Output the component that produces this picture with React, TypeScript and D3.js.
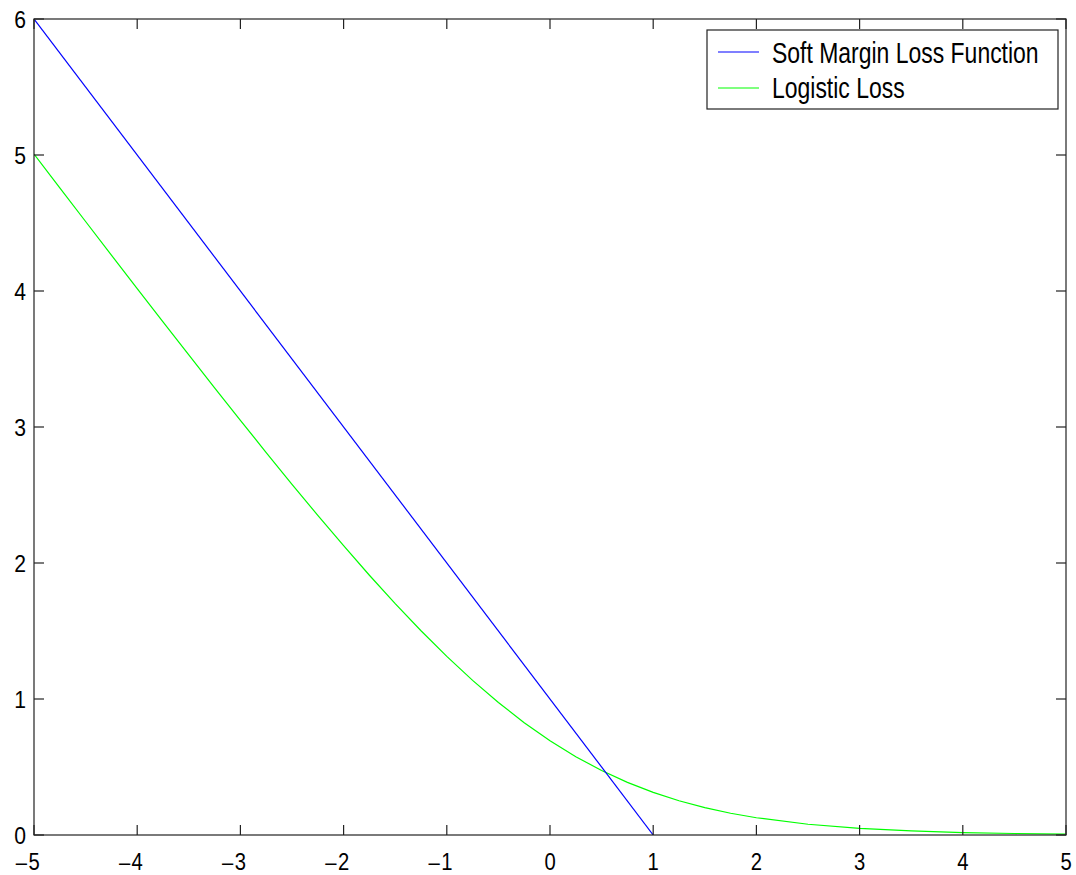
import React from "react";
import * as d3 from "d3";

const xTicks = [-5, -4, -3, -2, -1, 0, 1, 2, 3, 4, 5];
const yTicks = [0, 1, 2, 3, 4, 5, 6];

const softX = [-5, 1];
const softY = [6, 0];

const logisticX = [-5, -4.75, -4.5, -4.25, -4, -3.75, -3.5, -3.25, -3, -2.75, -2.5, -2.25, -2, -1.75, -1.5, -1.25, -1, -0.75, -0.5, -0.25, 0, 0.25, 0.5, 0.75, 1, 1.25, 1.5, 1.75, 2, 2.5, 3, 3.5, 4, 4.5, 5];
const logisticY = [5.007, 4.759, 4.511, 4.264, 4.018, 3.773, 3.53, 3.288, 3.049, 2.812, 2.579, 2.35, 2.127, 1.91, 1.701, 1.502, 1.313, 1.137, 0.974, 0.826, 0.693, 0.576, 0.474, 0.387, 0.313, 0.252, 0.201, 0.16, 0.127, 0.079, 0.049, 0.03, 0.018, 0.011, 0.007];

const seriesNames = ["Soft Margin Loss Function", "Logistic Loss"];
const seriesColors = ["#0000ff", "#00ff00"];

const W = 1076;
const H = 875;
const L = 34, R = 1066, T = 19, B = 835;
const FONT = "'Liberation Sans', Arial, sans-serif";
const AX = "#222";
const SX = 0.88;
const LSX = 0.792;

export default function App() {
  const x = d3.scaleLinear().domain([-5, 5]).range([L, R]);
  const y = d3.scaleLinear().domain([0, 6]).range([B, T]);
  const line = d3.line<[number, number]>().x(d => x(d[0])).y(d => y(d[1]));
  const soft = softX.map((v, i) => [v, softY[i]] as [number, number]);
  const logi = logisticX.map((v, i) => [v, logisticY[i]] as [number, number]);
  const tl = 10;
  return (
    <svg width={W} height={H} style={{ position: "absolute", left: 0, top: 0, background: "#fff" }}>
      <rect x={0} y={0} width={W} height={H} fill="#fff" />
      <defs>
        <clipPath id="clip"><rect x={L} y={T} width={R - L} height={B - T} /></clipPath>
      </defs>
      <g clipPath="url(#clip)">
        <path d={line(logi) || ""} fill="none" stroke={seriesColors[1]} strokeWidth={1.2} />
        <path d={line(soft) || ""} fill="none" stroke={seriesColors[0]} strokeWidth={1.2} />
      </g>
      <rect x={L} y={T} width={R - L} height={B - T} fill="none" stroke={AX} strokeWidth={1.2} />
      {xTicks.map(t => (
        <g key={"x" + t}>
          <line x1={x(t)} x2={x(t)} y1={B} y2={B - tl} stroke={AX} strokeWidth={1.2} />
          <line x1={x(t)} x2={x(t)} y1={T} y2={T + tl} stroke={AX} strokeWidth={1.2} />
          <g transform={`translate(${x(t)},870) scale(${SX},1)`}>
            <text x={0} y={0} textAnchor="middle" fontFamily={FONT} fontSize={23} fill="#000">
              {String(Math.abs(t))}
            </text>
            {t < 0 && (
              <text x={-8} y={0} textAnchor="end" fontFamily={FONT} fontSize={23} fill="#000">–</text>
            )}
          </g>
        </g>
      ))}
      {yTicks.map(t => (
        <g key={"y" + t}>
          <line x1={L} x2={L + tl} y1={y(t)} y2={y(t)} stroke={AX} strokeWidth={1.2} />
          <line x1={R} x2={R - tl} y1={y(t)} y2={y(t)} stroke={AX} strokeWidth={1.2} />
          <g transform={`translate(26,${y(t) + 9}) scale(${SX},1)`}>
            <text x={0} y={0} textAnchor="end" fontFamily={FONT} fontSize={24} fill="#000">
              {String(t)}
            </text>
          </g>
        </g>
      ))}
      <rect x={707} y={30} width={351} height={79} fill="#fff" stroke={AX} strokeWidth={1.2} />
      {seriesNames.map((n, i) => (
        <g key={n}>
          <line x1={718} x2={759} y1={52 + i * 36} y2={52 + i * 36} stroke={seriesColors[i]} strokeWidth={1.2} />
          <g transform={`translate(772,${63 + i * 35}) scale(${LSX},1)`}>
            <text x={0} y={0} fontFamily={FONT} fontSize={29} fill="#000">{n}</text>
          </g>
        </g>
      ))}
    </svg>
  );
}
